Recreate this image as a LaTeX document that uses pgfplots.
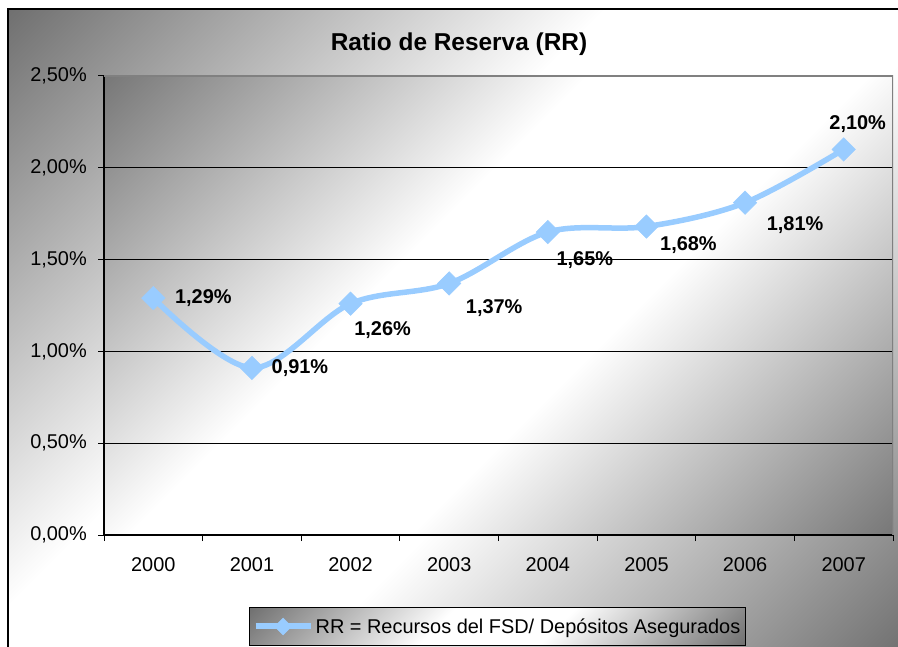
\documentclass[border=0pt]{standalone}
\usepackage{fontspec}
\setmainfont{Liberation Sans}
\usepackage{pgfplots}
\pgfplotsset{compat=1.18}
\definecolor{lb}{RGB}{153,204,255}
\definecolor{outdark}{gray}{0.44}
\definecolor{plotdark}{gray}{0.47}
\definecolor{framegray}{gray}{0.5}
\pgfdeclarehorizontalshading{outshade}{100bp}{color(0bp)=(outdark); color(14.6bp)=(outdark); color(42bp)=(white); color(58bp)=(white); color(85.4bp)=(outdark); color(100bp)=(outdark)}
\pgfdeclarehorizontalshading{plotshade}{100bp}{color(0bp)=(plotdark); color(14.6bp)=(plotdark); color(42bp)=(white); color(58bp)=(white); color(85.4bp)=(plotdark); color(100bp)=(plotdark)}
\newcommand{\tf}{\fontsize{20}{24}\selectfont}

\pgfplotstableread{
x  y    lab   dx  dy
0  1.29 1,29  50   0
1  0.91 0,91  48   0
2  1.26 1,26  32  -26
3  1.37 1,37  45  -25
4  1.65 1,65  37  -28
5  1.68 1,68  42  -19
6  1.81 1,81  50  -22
7  2.10 2,10  14   25
}\rrdata

\begin{document}
\begin{tikzpicture}
\useasboundingbox (0bp,0bp) rectangle (898bp,647bp);
\path[shade, shading=outshade, shading angle=-45, draw=black, line width=1.3bp]
  (8bp,-6bp) rectangle (906bp,638bp);
\node[font=\bfseries\fontsize{24.5}{29}\selectfont, anchor=base] at (459bp,596bp) {Ratio de Reserva (RR)};
\begin{axis}[
  at={(104bp,112bp)}, anchor=south west,
  scale only axis, width=789bp, height=459bp,
  xmin=-0.5, xmax=7.5, ymin=0, ymax=2.5,
  axis lines=left,
  axis line style={-, line width=1.5bp, black},
  axis background/.style={shade, shading=plotshade, shading angle=-45},
  xtick={0,1,2,3,4,5,6,7},
  xticklabels={2000,2001,2002,2003,2004,2005,2006,2007},
  minor xtick={-0.5,0.5,1.5,2.5,3.5,4.5,5.5,6.5,7.5},
  ytick={0,0.5,1,1.5,2,2.5},
  yticklabels={{0,00\%},{0,50\%},{1,00\%},{1,50\%},{2,00\%},{2,50\%}},
  tick align=outside,
  major tick length=6bp, minor tick length=6bp,
  major x tick style={draw=none},
  tick style={black, line width=1bp},
  ymajorgrids, grid style={black, line width=0.9bp},
  tick label style={font=\tf, inner sep=0pt},
  yticklabel style={xshift=-11bp},
  xticklabel style={yshift=-16bp},
  legend style={at={(axis description cs:0.4987,-0.1993)}, anchor=center,
    shade, shading=outshade, shading angle=-45, draw=black, line width=1bp,
    font=\tf, inner xsep=3bp, inner ysep=9bp},
  legend image code/.code={%
    \draw[lb, line width=6bp] (0bp,0bp) -- (55bp,0bp);
    \draw[lb, mark=square*, mark size=6bp, mark options={rotate=45, line width=0.5bp}] plot coordinates {(27.5bp,0bp)};},
]
\addplot[lb, line width=5.5bp, smooth, tension=0.55,
  mark=square*, mark size=8.3bp, mark options={rotate=45, solid, line width=0.5bp},
  visualization depends on={\thisrow{dx} \as \dx},
  visualization depends on={\thisrow{dy} \as \dy},
  nodes near coords={\pgfplotspointmeta\%},
  point meta=explicit symbolic,
  nodes near coords style={font=\bfseries\tf, text=black, anchor=center, inner sep=0pt,
    xshift=\dx*1bp, yshift=\dy*1bp}]
  table[x=x, y=y, meta=lab] {\rrdata};
\addlegendentry{RR = Recursos del FSD/ Depósitos Asegurados}
\draw[framegray, line width=2bp] (rel axis cs:0,1) -- (rel axis cs:1,1) -- (rel axis cs:1,0);
\end{axis}
\end{tikzpicture}
\end{document}
